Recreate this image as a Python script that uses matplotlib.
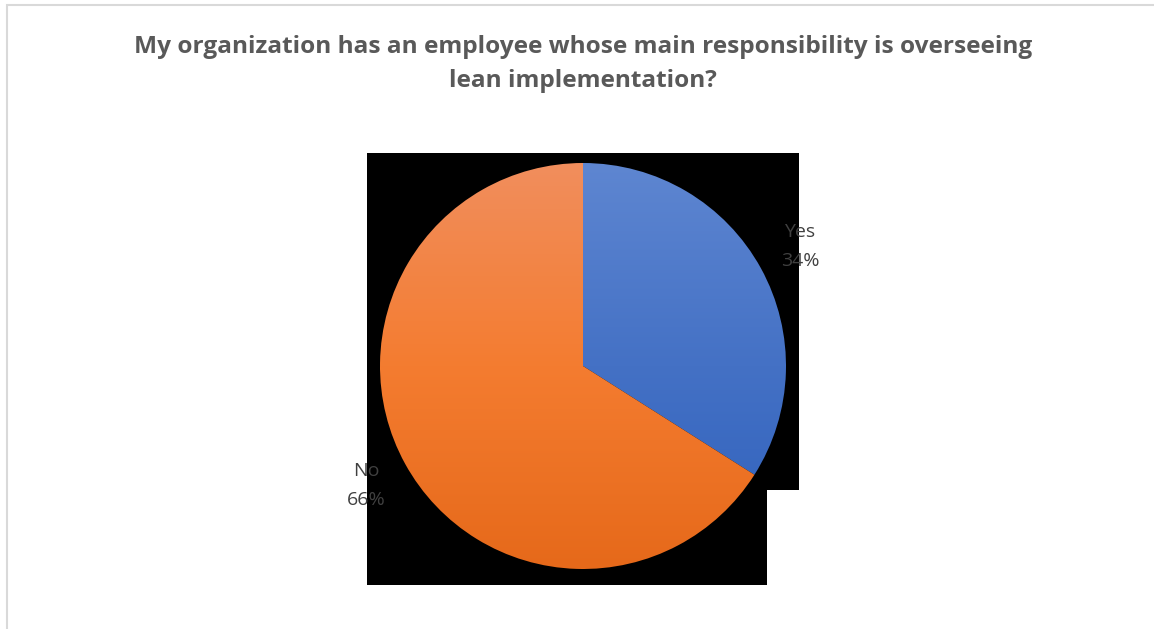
import matplotlib
matplotlib.use("Agg")
import matplotlib.pyplot as plt
import numpy as np
from matplotlib.patches import Rectangle
from matplotlib.colors import LinearSegmentedColormap

title_lines = ["My organization has an employee whose main responsibility is overseeing",
               "lean implementation?"]
categories = ["Yes", "No"]
values = [34, 66]
colors_top = ["#5E86D1", "#F18E5D"]
colors_mid = ["#4471C5", "#F47C30"]
colors_bottom = ["#2E60BC", "#E6691A"]

W, H = 1154, 629
fig = plt.figure(figsize=(W / 100, H / 100), dpi=100)
fig.patch.set_facecolor("white")

# background axes in pixel coordinates
bg = fig.add_axes([0, 0, 1, 1])
bg.set_xlim(0, W)
bg.set_ylim(H, 0)
bg.axis("off")
# chart border (cut at right/bottom)
bg.plot([6.5, 6.5, W + 5], [H + 5, 4.5, 4.5], color="#D9D9D9", lw=1.5, solid_joinstyle="miter")
# black plot-area artifacts
bg.add_patch(Rectangle((367, 153), 432, 337, facecolor="black", edgecolor="none"))
bg.add_patch(Rectangle((367, 489), 400, 96, facecolor="black", edgecolor="none"))

# title
title_font = ["Open Sans", "DejaVu Sans"]
bg.text(583, 47, title_lines[0], ha="center", va="center", fontsize=17.6, fontweight="bold",
        color="#595959", family=title_font)
bg.text(583, 81, title_lines[1], ha="center", va="center", fontsize=17.6, fontweight="bold",
        color="#595959", family=title_font)

# pie axes
cx, cy, r = 583, 366, 203
ax = fig.add_axes([(cx - r) / W, (H - cy - r) / H, 2 * r / W, 2 * r / H])
labels = [f"{c}\n{v}%" for c, v in zip(categories, values)]
wedges, texts = ax.pie(values, labels=labels, startangle=90, counterclock=False,
                       colors=colors_top, labeldistance=1.22,
                       wedgeprops=dict(edgecolor="none", linewidth=0),
                       textprops=dict(color="#404040", fontsize=14, family=["Open Sans", "DejaVu Sans"],
                                      ha="center", va="center", linespacing=1.8))
ax.set_xlim(-1, 1)
ax.set_ylim(-1, 1)
ax.set_aspect("auto")
ax.axis("off")

grad = np.linspace(0, 1, 256).reshape(-1, 1)
for w, ct, cm, cb in zip(wedges, colors_top, colors_mid, colors_bottom):
    cmap = LinearSegmentedColormap.from_list("g", [ct, cm, cb])
    im = ax.imshow(grad, extent=(-1, 1, -1, 1), origin="upper", cmap=cmap,
                   aspect="auto", zorder=w.get_zorder() + 0.1, interpolation="bilinear")
    im.set_clip_path(w)
    w.set_facecolor("none")
for t in texts:
    t.set_zorder(10)
ax.set_xlim(-1, 1)
ax.set_ylim(-1, 1)

fig.savefig("out.png", dpi=100)
